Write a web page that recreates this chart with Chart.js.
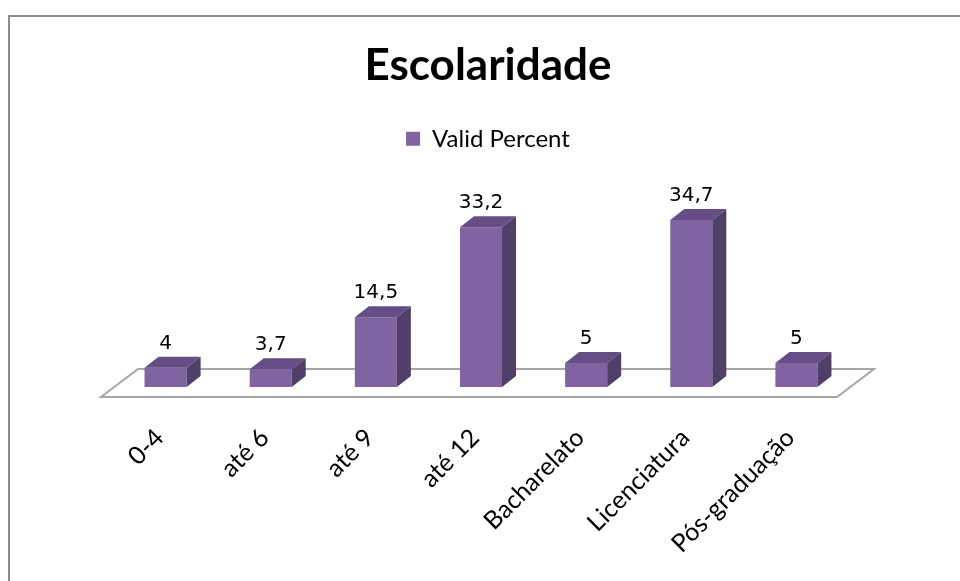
<!DOCTYPE html>
<html>
<head>
<meta charset="utf-8">
<script src="https://cdn.jsdelivr.net/npm/chart.js@4.4.1/dist/chart.umd.min.js"></script>
<style>
  html, body { margin: 0; padding: 0; background: #fff; overflow: hidden; }
  .frame { position: absolute; left: 8px; top: 15px; width: 1000px; height: 700px; border: 2px solid #8c8c8c; }
  #chart { position: absolute; left: 0; top: 0; }
</style>
</head>
<body>
<div class="frame"></div>
<canvas id="chart" width="960" height="581"></canvas>
<script>
var categories = ['0-4', 'até 6', 'até 9', 'até 12', 'Bacharelato', 'Licenciatura', 'Pós-graduação'];
var validPercent = [4, 3.7, 14.5, 33.2, 5, 34.7, 5];

var front = '#8064A2';
var top3d = '#644E85';
var side3d = '#503F69';
var depthX = 14, depthY = -11;

// floor plane under the bars
var floorPlugin = {
  id: 'floor',
  beforeDatasetsDraw: function(chart) {
    var c = chart.ctx;
    var x = chart.scales.x, y = chart.scales.y;
    var base = y.getPixelForValue(0);
    c.save();
    c.beginPath();
    c.moveTo(x.left - 12, base + 10);
    c.lineTo(x.right - 12, base + 10);
    c.lineTo(x.right + 25, base - 18);
    c.lineTo(x.left + 25, base - 18);
    c.closePath();
    c.fillStyle = '#fff';
    c.fill();
    c.lineWidth = 2;
    c.strokeStyle = '#a6a6a6';
    c.stroke();
    c.restore();
  }
};

// top + side faces and the value labels
var boxPlugin = {
  id: 'box3d',
  afterDatasetsDraw: function(chart) {
    var c = chart.ctx;
    var meta = chart.getDatasetMeta(0);
    c.save();
    meta.data.forEach(function(bar, i) {
      var l = bar.x - bar.width / 2, r = bar.x + bar.width / 2;
      var t = bar.y, b = bar.base;
      c.beginPath();
      c.moveTo(l, t); c.lineTo(r, t); c.lineTo(r + depthX, t + depthY); c.lineTo(l + depthX, t + depthY);
      c.closePath();
      c.fillStyle = top3d; c.fill();
      c.beginPath();
      c.moveTo(r, t); c.lineTo(r + depthX, t + depthY); c.lineTo(r + depthX, b + depthY); c.lineTo(r, b);
      c.closePath();
      c.fillStyle = side3d; c.fill();

      c.fillStyle = '#000';
      c.font = '20px "DejaVu Sans"';
      c.textAlign = 'center';
      c.textBaseline = 'alphabetic';
      c.fillText(String(validPercent[i]).replace('.', ','), bar.x, t - 19);
    });
    c.restore();
  }
};

new Chart(document.getElementById('chart'), {
  type: 'bar',
  data: {
    labels: categories,
    datasets: [{
      label: 'Valid Percent',
      data: validPercent,
      backgroundColor: front,
      borderWidth: 0,
      categoryPercentage: 0.8,
      barPercentage: 0.5
    }]
  },
  options: {
    responsive: false,
    animation: false,
    devicePixelRatio: 1,
    layout: { padding: { left: 113, right: 97, top: 0, bottom: 0 } },
    plugins: {
      title: {
        display: true,
        text: 'Escolaridade',
        color: '#000',
        font: { family: 'Lato', size: 44, weight: 'bold' },
        padding: { top: 39, bottom: 25 }
      },
      legend: {
        display: true,
        labels: {
          color: '#000',
          font: { family: 'Lato', size: 24 },
          boxWidth: 14,
          boxHeight: 14,
          padding: 10
        }
      },
      tooltip: { enabled: false }
    },
    scales: {
      x: {
        grid: { display: false, drawTicks: false },
        border: { display: false },
        ticks: {
          color: '#000',
          font: { family: 'Lato', size: 25 },
          maxRotation: 45,
          minRotation: 45,
          padding: 36,
          labelOffset: -6
        },
        afterFit: function(scale) { scale.height = 194; }
      },
      y: {
        position: 'right',
        min: 0,
        max: 47,
        grid: { display: false, drawTicks: false },
        border: { display: false },
        ticks: { display: false },
        afterFit: function(scale) { scale.width = 14; }
      }
    }
  },
  plugins: [floorPlugin, boxPlugin]
});
</script>
</body>
</html>
